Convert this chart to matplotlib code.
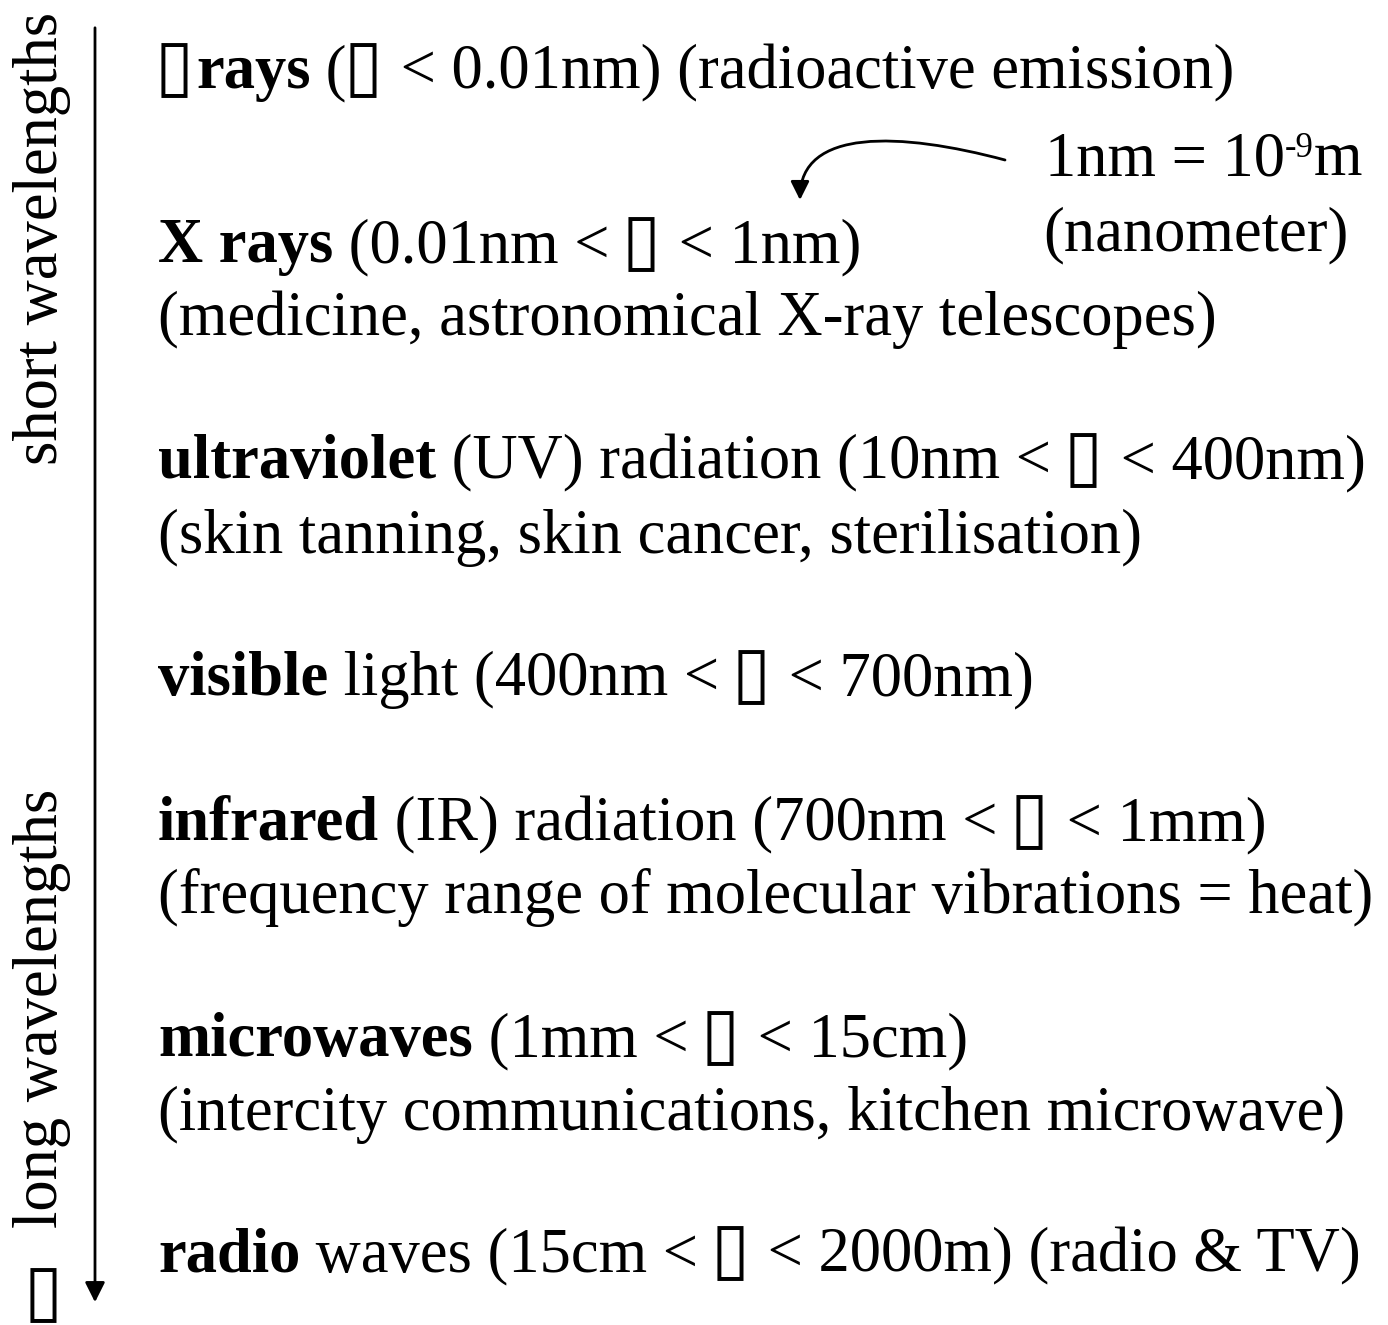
import matplotlib
matplotlib.use("Agg")
import matplotlib.pyplot as plt
from matplotlib.patches import FancyArrowPatch
from matplotlib.path import Path
from matplotlib.textpath import TextPath
from matplotlib.font_manager import FontProperties

FAM = ["Liberation Serif", "DejaVu Sans"]
BOX = "\u25af"   # the missing-glyph boxes of the original

# band name (bold), rest of the line, second line with uses
bands = [BOX + "rays", "X rays", "ultraviolet", "visible", "infrared", "microwaves", "radio"]
ranges = [" (" + BOX + " < 0.01nm) (radioactive emission)",
          " (0.01nm < " + BOX + " < 1nm)",
          " (UV) radiation (10nm < " + BOX + " < 400nm)",
          " light (400nm < " + BOX + " < 700nm)",
          " (IR) radiation (700nm < " + BOX + " < 1mm)",
          " (1mm < " + BOX + " < 15cm)",
          " waves (15cm < " + BOX + " < 2000m) (radio & TV)"]
uses = ["",
        "(medicine, astronomical X-ray telescopes)",
        "(skin tanning, skin cancer, sterilisation)",
        "",
        "(frequency range of molecular vibrations = heat)",
        "(intercity communications, kitchen microwave)",
        ""]

# layout (pixel baselines)
y_band = [88, 262, 478, 695, 840, 1056, 1271]
y_use = [None, 335, 553, None, 913, 1130, None]
x0 = 158
FS = 45

fig = plt.figure(figsize=(13.88, 13.25), dpi=100)
ax = fig.add_axes([0, 0, 1, 1])
ax.set_xlim(0, 1388)
ax.set_ylim(1325, 0)
ax.axis("off")
renderer = fig.canvas.get_renderer()

# size the box glyph so it looks like the tofu of the original (~31x54 px)
ext = TextPath((0, 0), BOX, size=1, prop=FontProperties(family="DejaVu Sans")).get_extents()
BOX_H, BOX_ADV = 54, 38
box_px = BOX_H / ext.height          # em size in pixels
box_pt = box_px * 72 / 100


def put_box(x, y):
    ax.text(x + 3 - ext.x0 * box_px, y + 10 + ext.y0 * box_px, BOX,
            fontsize=box_pt, family="DejaVu Sans", va="baseline", ha="left")
    return x + BOX_ADV


def put(x, y, s, weight="normal", size=FS):
    pieces = s.split(BOX)
    for i, p in enumerate(pieces):
        if i > 0:
            x = put_box(x, y)
        if p:
            t = ax.text(x, y, p, fontsize=size, fontweight=weight, family=FAM,
                        va="baseline", ha="left")
            bb = t.get_window_extent(renderer)
            x = ax.transData.inverted().transform((bb.x1, bb.y0))[0]
    return x


for b, r, u, yb, yu in zip(bands, ranges, uses, y_band, y_use):
    x = put(x0, yb, b, "bold")
    put(x, yb, r)
    if u:
        put(x0, yu, u)

# 1nm note
x = put(1045, 175, "1nm = 10")
x = put(x, 157, "-9", size=25)
put(x, 175, "m")
put(1043, 250, "(nanometer)")
curve = Path([(1005, 160), (900, 132), (800, 128), (800, 200)],
             [Path.MOVETO, Path.CURVE4, Path.CURVE4, Path.CURVE4])
ax.add_patch(FancyArrowPatch(path=curve, arrowstyle="-|>", mutation_scale=28,
                             lw=2, color="k"))

# left axis arrow
ax.annotate("", xy=(95, 1305), xytext=(95, 25),
            arrowprops=dict(arrowstyle="-|>", lw=2, color="k",
                            mutation_scale=30))
ax.text(42, 238, "short wavelengths", rotation=90, fontsize=FS,
        family=FAM, ha="center", va="center")
ax.text(42, 1008, "long wavelengths", rotation=90, fontsize=FS,
        family=FAM, ha="center", va="center")
put_box(27, 1269 + BOX_H - 10)

fig.savefig("out.png", dpi=100)
